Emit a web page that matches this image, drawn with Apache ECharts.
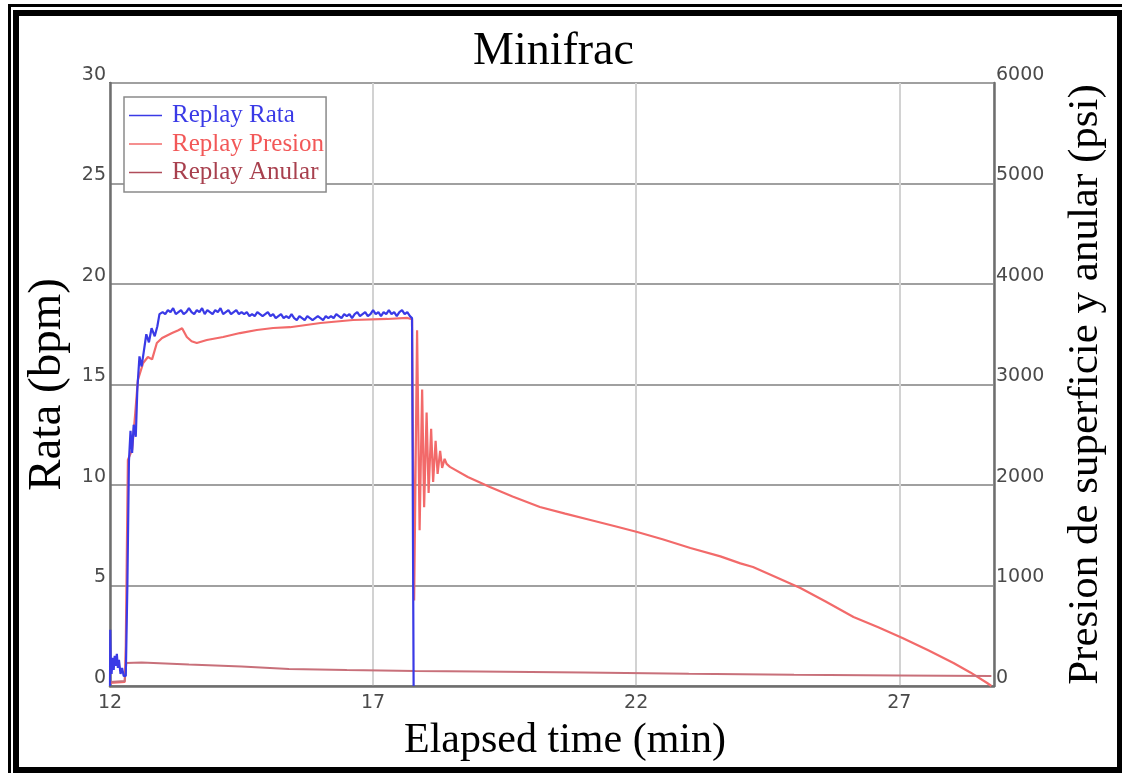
<!DOCTYPE html>
<html>
<head>
<meta charset="utf-8">
<script src="https://cdn.jsdelivr.net/npm/echarts@6/dist/echarts.min.js"></script>
<style>
  html, body { margin: 0; padding: 0; background: #fff; }
  #chart { width: 1122px; height: 773px; }
</style>
</head>
<body>
<div id="chart"></div>
<script>
// Elapsed time origin of the x axis (min); ticks every 5 min from here
const timeStart = 12;
const timeEnd = 28.8;
const timeTickStep = 5;

// Replay Rata (bpm), left axis
const rataTime = [
  12.00, 12.005, 12.015, 12.03, 12.05, 12.07, 12.09, 12.11, 12.13, 12.15, 12.17, 12.20, 12.23, 12.26, 12.30,
  12.33, 12.36, 12.39, 12.42, 12.45, 12.49, 12.52, 12.56, 12.60, 12.64, 12.69, 12.74, 12.79, 12.85, 12.90, 12.94,
  13.00, 13.05, 13.10, 13.15, 13.20, 13.25, 13.30, 13.35, 13.40, 13.45, 13.50, 13.55, 13.60, 13.65, 13.70, 13.75,
  13.80, 13.85, 13.90, 13.95, 14.00, 14.05, 14.10, 14.15, 14.20, 14.25, 14.30, 14.35, 14.40, 14.45, 14.50, 14.55,
  14.60, 14.65, 14.70, 14.75, 14.80, 14.85, 14.90, 14.95, 15.00, 15.05, 15.10, 15.15, 15.20, 15.25, 15.30, 15.35,
  15.40, 15.45, 15.50, 15.55, 15.60, 15.65, 15.70, 15.75, 15.80, 15.85, 15.90, 15.95, 16.00, 16.05, 16.10, 16.15,
  16.20, 16.25, 16.30, 16.35, 16.40, 16.45, 16.50, 16.55, 16.60, 16.65, 16.70, 16.75, 16.80, 16.85, 16.90, 16.95,
  17.00, 17.05, 17.10, 17.15, 17.20, 17.25, 17.30, 17.35, 17.40, 17.45, 17.50, 17.55, 17.60, 17.65, 17.70, 17.74,
  17.77
];
const rata = [
  0, 2.8, 1.0, 0.6, 1.4, 0.8, 1.5, 1.0, 1.6, 0.9, 1.3, 0.6, 0.9, 0.5, 0.5,
  5.0, 11.2, 12.7, 11.6, 13.0, 12.4, 14.8, 16.4, 15.9, 16.6, 17.5, 17.1, 17.8, 17.4, 17.9, 18.5,
  18.6, 18.5, 18.7, 18.6, 18.8, 18.5, 18.6, 18.7, 18.5, 18.6, 18.8, 18.6, 18.5, 18.7, 18.6, 18.8,
  18.5, 18.7, 18.6, 18.5, 18.7, 18.6, 18.8, 18.5, 18.6, 18.7, 18.5, 18.6, 18.7, 18.5, 18.6, 18.5,
  18.6, 18.4, 18.5, 18.4, 18.6, 18.5, 18.4, 18.5, 18.6, 18.4, 18.5, 18.3, 18.4, 18.5, 18.3, 18.4,
  18.3, 18.5, 18.3, 18.2, 18.4, 18.3, 18.2, 18.4, 18.3, 18.2, 18.3, 18.4, 18.3, 18.2, 18.4, 18.3,
  18.4, 18.3, 18.5, 18.4, 18.3, 18.5, 18.4, 18.5, 18.3, 18.5, 18.6, 18.4, 18.5, 18.6, 18.4, 18.5,
  18.7, 18.5, 18.6, 18.4, 18.6, 18.5, 18.7, 18.5, 18.6, 18.4, 18.6, 18.7, 18.5, 18.6, 18.4, 18.3,
  0
];

// Replay Presion (psi), right axis
const presionTime = [
  12.00, 12.28, 12.30, 12.34, 12.42, 12.48, 12.53, 12.63, 12.72, 12.80, 12.89, 12.99, 13.18, 13.30, 13.37,
  13.46, 13.55, 13.65, 13.84, 14.15, 14.47, 14.79, 15.10, 15.42, 16.00, 16.62, 17.27, 17.65, 17.74,
  17.78, 17.836, 17.884, 17.932, 17.970, 18.017, 18.055, 18.103, 18.141, 18.188, 18.226, 18.274, 18.312,
  18.359, 18.397, 18.46, 18.80, 19.22, 19.65, 20.17, 20.65, 21.13, 21.60, 22.02, 22.50, 23.03, 23.60,
  23.98, 24.22, 24.65, 25.12, 25.60, 26.13, 26.60, 27.06, 27.55, 28.03, 28.35, 28.67, 28.75
];
const presion = [
  30, 40, 400, 2250, 2350, 2716, 3045, 3214, 3274, 3250, 3413, 3463, 3512, 3540, 3560,
  3473, 3430, 3413, 3443, 3473, 3512, 3542, 3562, 3570, 3612, 3642, 3652, 3662, 3650,
  850, 3540, 1550, 2950, 1780, 2720, 1920, 2560, 2030, 2440, 2110, 2340, 2170,
  2260, 2210, 2180, 2080, 1980, 1885, 1781, 1715, 1652, 1590, 1532, 1460, 1373, 1290,
  1220, 1184, 1085, 975, 840, 687, 585, 478, 355, 229, 135, 30, 0
];

// Replay Anular (psi), right axis
const anularTime = [12.00, 12.28, 12.31, 12.60, 13.50, 14.50, 15.40, 16.50, 17.80, 19.00, 21.00, 23.00, 25.00, 27.00, 28.75];
const anular = [40, 50, 230, 235, 215, 195, 170, 160, 150, 145, 135, 122, 112, 105, 100];

// Axis tick values
const rataTicks = { min: 0, max: 30, step: 5 };
const presionTicks = { min: 0, max: 6000, step: 1000 };

const serif = '"Liberation Serif", "Times New Roman", serif';
const tickFont = '"DejaVu Sans", Verdana, sans-serif';

// x values are minutes after timeStart so the 5-min ticks start at the axis origin
const pairs = (ts, vs) => ts.map((t, i) => [t - timeStart, vs[i]]);

const chart = echarts.init(document.getElementById('chart'), null, { renderer: 'canvas' });

chart.setOption({
  backgroundColor: '#ffffff',
  animation: false,
  title: {
    text: 'Minifrac',
    left: 468,
    top: 24,
    textStyle: { fontFamily: serif, fontSize: 46, fontWeight: 'normal', color: '#000' }
  },
  legend: {
    orient: 'vertical',
    left: 124,
    top: 97,
    padding: [6, 2, 7, 5],
    itemWidth: 33,
    itemHeight: 1.5,
    itemGap: 3.5,
    icon: 'rect',
    backgroundColor: '#fff',
    borderColor: '#8a8a8a',
    borderWidth: 1.5,
    borderRadius: 0,
    textStyle: { fontFamily: serif, fontSize: 25, lineHeight: 25, padding: [0, 0, 0, 5] },
    data: [
      { name: 'Replay Rata', textStyle: { color: '#3a3ae6' } },
      { name: 'Replay Presion', textStyle: { color: '#f25858' } },
      { name: 'Replay Anular', textStyle: { color: '#a8404e' } }
    ]
  },
  grid: {
    left: 110, right: 128, top: 83, bottom: 87,
    show: true, borderColor: '#7a7a7a', borderWidth: 2
  },
  xAxis: {
    type: 'value',
    min: 0,
    max: timeEnd - timeStart,
    interval: timeTickStep,
    name: 'Elapsed time (min)',
    nameLocation: 'middle',
    nameGap: 34,
    nameTextStyle: { fontFamily: serif, fontSize: 42, color: '#000', padding: [0, 0, 0, 26] },
    axisLine: { show: true, lineStyle: { color: '#6e6e6e', width: 2.5 } },
    axisTick: { show: false },
    axisLabel: {
      showMaxLabel: false,
      margin: 8,
      fontFamily: tickFont, fontSize: 19, color: '#4a4a4a',
      formatter: v => String(Math.round(v + timeStart))
    },
    splitLine: { show: true, lineStyle: { color: '#d2d2d2', width: 2 } }
  },
  yAxis: [
    {
      type: 'value',
      position: 'left',
      min: rataTicks.min, max: rataTicks.max, interval: rataTicks.step,
      name: 'Rata (bpm)',
      nameLocation: 'middle',
      nameGap: 37,
      nameTextStyle: { fontFamily: serif, fontSize: 47, color: '#000' },
      axisLine: { show: true, lineStyle: { color: '#6e6e6e', width: 2.5 } },
      axisTick: { show: false },
      axisLabel: {
        margin: 4, verticalAlign: 'bottom', lineHeight: 16,
        fontFamily: tickFont, fontSize: 19, color: '#4a4a4a',
        formatter: v => String(v)
      },
      splitLine: { show: true, lineStyle: { color: '#a0a0a0', width: 2 } }
    },
    {
      type: 'value',
      position: 'right',
      min: presionTicks.min, max: presionTicks.max, interval: presionTicks.step,
      name: 'Presion de superficie y anular (psi)',
      nameLocation: 'middle',
      nameGap: 70,
      nameRotate: 90,
      nameTextStyle: { fontFamily: serif, fontSize: 43, color: '#000' },
      axisLine: { show: true, lineStyle: { color: '#6e6e6e', width: 2.5 } },
      axisTick: { show: false },
      axisLabel: {
        margin: 2, verticalAlign: 'bottom', lineHeight: 16,
        fontFamily: tickFont, fontSize: 19, color: '#4a4a4a',
        formatter: v => String(v)
      },
      splitLine: { show: false }
    }
  ],
  series: [
    {
      name: 'Replay Rata',
      type: 'line',
      yAxisIndex: 0,
      symbol: 'none',
      z: 4,
      lineStyle: { color: '#3a3ae6', width: 2.2 },
      itemStyle: { color: '#3a3ae6' },
      data: pairs(rataTime, rata)
    },
    {
      name: 'Replay Presion',
      type: 'line',
      yAxisIndex: 1,
      symbol: 'none',
      z: 3,
      lineStyle: { color: '#f26a6a', width: 2.2 },
      itemStyle: { color: '#f26a6a' },
      data: pairs(presionTime, presion)
    },
    {
      name: 'Replay Anular',
      type: 'line',
      yAxisIndex: 1,
      symbol: 'none',
      z: 3,
      lineStyle: { color: '#c8707a', width: 2 },
      itemStyle: { color: '#b04c5a' },
      data: pairs(anularTime, anular)
    }
  ],
  graphic: [
    // double black picture frame
    { type: 'rect', silent: true, z: 100,
      shape: { x: 9.5, y: 5.5, width: 1200, height: 1200 },
      style: { fill: 'none', stroke: '#000', lineWidth: 3 } },
    { type: 'rect', silent: true, z: 100,
      shape: { x: 16, y: 13, width: 1104, height: 757 },
      style: { fill: 'none', stroke: '#000', lineWidth: 6 } }
  ]
});
</script>
</body>
</html>
